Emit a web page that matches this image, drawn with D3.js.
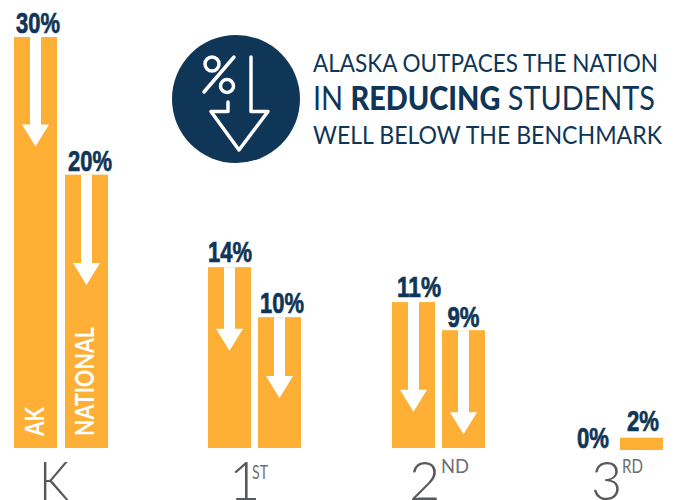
<!DOCTYPE html>
<html>
<head>
<meta charset="utf-8">
<script src="https://cdn.jsdelivr.net/npm/d3@7"></script>
<style>
html,body{margin:0;padding:0;background:#fff;overflow:hidden}
</style>
</head>
<body>
<div class="mainView"></div>
<script>
// values (bars are not quite to scale with their printed labels)
let grades = ["K","1","2","3"];
let gradeSuffix = ["","ST","ND","RD"];
let series = ["AK","NATIONAL"];
let akBars = [30,13.2,10.65,0];
let nationalBars = [19.95,9.55,8.6,0.9];
let akLabels = ["30%","14%","11%","0%"];
let nationalLabels = ["20%","10%","9%","2%"];
// where each arrow tip lands, same units as the bars
let akArrowTips = [22,7.1,2.65,null];
let nationalArrowTips = [11.9,3.65,1,null];
let titleLines = ["ALASKA OUTPACES THE NATION","IN |REDUCING| STUDENTS","WELL BELOW THE BENCHMARK"];

let orange = "#fdb035", navy = "#0f3557", gray = "#58595b";

function getConfig(){
    let width = 677, height = 500;
    let svg = d3.select(".mainView").append("svg")
        .attr("width",width).attr("height",height)
        .style("display","block");
    return {width,height,svg};
}

function getScales(){
    let xGroup = d3.scaleOrdinal().domain(grades).range([14,208,392,570]);
    let xSeries = d3.scaleBand().domain(series).range([0,93]).paddingInner(0.14);
    let y = d3.scaleLinear().domain([0,30]).range([448,37]);
    return {xGroup,xSeries,y};
}

function rows(){
    let out = [];
    // small nudges for the value labels, the original places them by hand
    let akNudge = [[2.5,-4],[0.5,-5],[5.5,-5],[1.5,-2]];
    let natNudge = [[4.5,-4],[2.5,-4],[0,-3],[1.5,-7]];
    grades.forEach((g,i)=>{
        out.push({grade:g,s:"AK",value:akBars[i],label:akLabels[i],tip:akArrowTips[i],nudge:akNudge[i]});
        out.push({grade:g,s:"NATIONAL",value:nationalBars[i],label:nationalLabels[i],tip:nationalArrowTips[i],nudge:natNudge[i]});
    });
    return out;
}

function bars(config,scales){
    let {svg} = config;
    let {xGroup,xSeries,y} = scales;
    let data = rows();
    // K national bar stands one pixel further out in the original
    let barX = d=>xGroup(d.grade)+xSeries(d.s)+(d.grade=="K"&&d.s=="NATIONAL"?1:0);
    let bw = xSeries.bandwidth();
    // the 3rd grade bar sits a touch lower in the original
    let drop = d=>d.grade=="3"?2:0;

    svg.selectAll("rect.bar").data(data.filter(d=>d.value>0)).enter().append("rect")
        .attr("class","bar")
        .attr("x",barX)
        .attr("y",d=>y(d.value)+drop(d))
        .attr("width",bw)
        .attr("height",d=>y(0)-y(d.value))
        .attr("fill",orange);

    // arrows run from the top of the bar down to the tip value
    svg.selectAll("path.arrow").data(data.filter(d=>d.tip!=null)).enter().append("path")
        .attr("class","arrow")
        .attr("fill","#fff")
        .attr("d",d=>{
            let cx = barX(d)+bw/2;
            let top = y(d.value), tip = y(d.tip);
            let p = d3.path();
            p.moveTo(cx-5.5,top);
            p.lineTo(cx+5.5,top);
            p.lineTo(cx+5.5,tip-22);
            p.lineTo(cx+13.5,tip-22);
            p.lineTo(cx,tip);
            p.lineTo(cx-13.5,tip-22);
            p.lineTo(cx-5.5,tip-22);
            p.closePath();
            return p.toString();
        });

    svg.selectAll("text.val").data(data).enter().append("text")
        .attr("class","val")
        .attr("x",d=>xGroup(d.grade)+xSeries(d.s)+bw/2+d.nudge[0])
        .attr("y",d=>y(d.value)+drop(d)+d.nudge[1])
        .attr("text-anchor","middle")
        .attr("font-family","'Liberation Sans','DejaVu Sans',sans-serif")
        .attr("font-weight","bold")
        .attr("font-size",30)
        .attr("fill",navy)
        .attr("stroke",navy)
        .attr("stroke-width",0.7)
        .attr("textLength",d=>d.label.length==3?44:32)
        .attr("lengthAdjust","spacingAndGlyphs")
        .text(d=>d.label);
}

function seriesLabels(config,scales){
    let {svg} = config;
    let {xGroup,xSeries} = scales;
    series.forEach((s)=>{
        svg.append("text")
            .attr("transform","translate("+[xGroup("K")+xSeries(s)+30,436]+") rotate(-90)")
            .attr("font-family","Lato,sans-serif")
            .attr("font-weight","bold")
            .attr("font-size",26)
            .attr("fill","#fff")
            .attr("textLength",s=="AK"?29:109)
            .attr("lengthAdjust","spacingAndGlyphs")
            .text(s);
    });
}

function gradeAxis(config,scales){
    let {svg} = config;
    let {xGroup} = scales;
    let gradeShift = [25,21,17,21];
    let gradeLength = [30,null,null,null];
    let suffixShift = [0,44,49,52];
    let suffixLength = [0,16,28,21];
    let suffixBase = [0,479,473,473];
    grades.forEach((g,i)=>{
        let t = svg.append("text")
            .attr("x",xGroup(g)+gradeShift[i]).attr("y",500)
            .attr("font-family","Lato,sans-serif")
            .attr("font-weight",300)
            .attr("font-size",54)
            .attr("fill",gray)
            .text(g);
        if(gradeLength[i]) t.attr("textLength",gradeLength[i]).attr("lengthAdjust","spacingAndGlyphs");
        if(gradeSuffix[i]){
            svg.append("text")
                .attr("x",xGroup(g)+suffixShift[i]).attr("y",suffixBase[i])
                .attr("font-family","Lato,sans-serif")
                .attr("font-size",19)
                .attr("fill","#6d6e70")
                .attr("textLength",suffixLength[i])
                .attr("lengthAdjust","spacingAndGlyphs")
                .text(gradeSuffix[i]);
        }
    });
}

function title(config){
    let {svg} = config;
    let baselines = [72,110,144];
    let sizes = [25,33,25];
    let lengths = [345,342,349];
    titleLines.forEach((line,i)=>{
        let t = svg.append("text")
            .attr("x",313).attr("y",baselines[i])
            .attr("font-family","Lato,sans-serif")
            .attr("font-size",sizes[i])
            .attr("fill",navy)
            .attr("textLength",lengths[i])
            .attr("lengthAdjust","spacingAndGlyphs");
        line.split("|").forEach((part,j)=>{
            t.append("tspan").attr("font-weight",j==1?900:400).text(part);
        });
    });
}

function icon(config){
    let {svg} = config;
    let g = svg.append("g");
    g.append("circle").attr("cx",236).attr("cy",99).attr("r",64).attr("fill",navy);
    let line = g.append("g").attr("fill","none").attr("stroke","#fff")
        .attr("stroke-width",3.5).attr("stroke-linejoin","round").attr("stroke-linecap","round");
    line.append("circle").attr("cx",212).attr("cy",64).attr("r",7);
    line.append("circle").attr("cx",227).attr("cy",86).attr("r",6.5);
    line.append("path").attr("d","M234,57L204,92");
    line.append("path").attr("d","M251,57V111.5H268L239,150L211,111.5H228V102");
}

let config = getConfig();
let scales = getScales();
bars(config,scales);
seriesLabels(config,scales);
gradeAxis(config,scales);
icon(config);
title(config);
</script>
</body>
</html>
